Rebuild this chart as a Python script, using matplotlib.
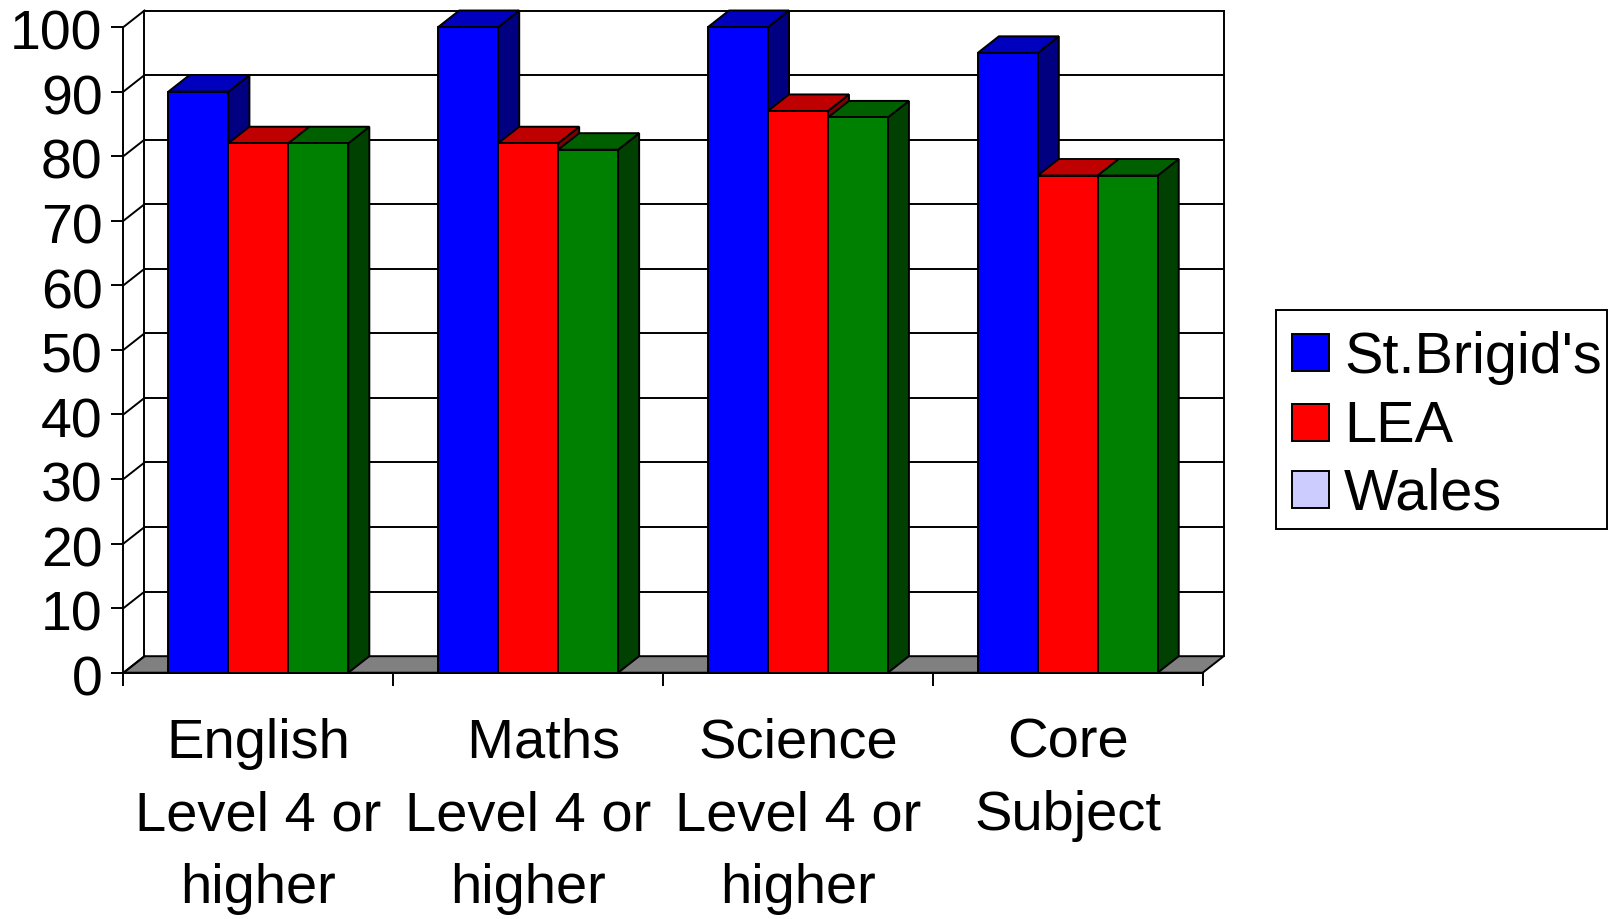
import matplotlib
matplotlib.use("Agg")
import matplotlib.pyplot as plt
from matplotlib.patches import Rectangle
from matplotlib.transforms import ScaledTranslation

plt.rcParams['font.family'] = ['Liberation Sans', 'DejaVu Sans']

# Data
categories = ["English\nLevel 4 or\nhigher", "  Maths\nLevel 4 or\nhigher",
              "Science\nLevel 4 or\nhigher", "Core\nSubject\n "]
st_brigids = [90, 100, 100, 96]
lea = [82, 82, 87, 77]
wales = [82, 81, 86, 77]
y_ticks = [0, 10, 20, 30, 40, 50, 60, 70, 80, 90, 100]
legend_labels = ["St.Brigid's", "LEA", "Wales"]

# front, top, side colours of each series
blue = ("#0000ff", "#0000bf", "#000080")
red = ("#ff0000", "#bf0000", "#800000")
green = ("#008000", "#006000", "#004000")
legend_colors = ["#0000ff", "#ff0000", "#ccccff"]

W, H = 1615, 919
LW = 1.4

# depth of the fake 3D box in data units
DX = 21 / 269.8
DY = 16.5 / 6.457
BAR_W = 2 / 9

fig = plt.figure(figsize=(W / 100, H / 100), dpi=100)
ax = fig.add_axes([123.5 / W, 1 - 672.7 / H, (1202.7 - 123.5) / W, (672.7 - 27) / H])
ax.set_xlim(0, 4)
ax.set_ylim(0, 100)
for s in ["top", "right"]:
    ax.spines[s].set_visible(False)
for s in ["left", "bottom"]:
    ax.spines[s].set_linewidth(LW)
    ax.spines[s].set_zorder(1)


def fill(xs, ys, color, z):
    ax.fill(xs, ys, facecolor=color, edgecolor="black", linewidth=LW,
            clip_on=False, zorder=z, joinstyle="miter")


# floor
fill([0, 4, 4 + DX, DX], [0, 0, DY, DY], "#808080", 1)

# back wall grid and the diagonals on the left wall
for t in y_ticks:
    if t > 0:
        ax.plot([DX, 4 + DX], [t + DY, t + DY], color="black", lw=LW, clip_on=False, zorder=1)
    ax.plot([0, DX], [t, t + DY], color="black", lw=LW, clip_on=False, zorder=1)
ax.plot([DX, DX], [DY, 100 + DY], color="black", lw=LW, clip_on=False, zorder=1)
ax.plot([4 + DX, 4 + DX], [DY, 100 + DY], color="black", lw=LW, clip_on=False, zorder=1)

# bars, left to right so each one covers the side of the one before
z = 2
for i in range(len(categories)):
    x = i + 1 / 6
    for vals, cols in [(st_brigids, blue), (lea, red), (wales, green)]:
        v = vals[i]
        fill([x + BAR_W, x + BAR_W + DX, x + BAR_W + DX, x + BAR_W],
             [0, DY, v + DY, v], cols[2], z)
        fill([x, x + BAR_W, x + BAR_W + DX, x + DX],
             [v, v, v + DY, v + DY], cols[1], z)
        ax.bar(x, v, width=BAR_W, align="edge", color=cols[0], edgecolor="black",
               linewidth=LW, zorder=z, clip_on=False)
        z += 1
        x += BAR_W

ax.set_yticks(y_ticks)
ax.tick_params(axis="y", length=8.6, width=LW, pad=6.5, labelsize=40)
# labels sit a little under their ticks in the original
for lab in ax.get_yticklabels():
    lab.set_transform(lab.get_transform() + ScaledTranslation(0, -2 / 72, fig.dpi_scale_trans))
ax.set_xticks(range(5))
ax.set_xticklabels([])
ax.tick_params(axis="x", which="major", length=9, width=LW)
ax.set_xticks([0.5, 1.5, 2.5, 3.5], minor=True)
ax.set_xticklabels(categories, minor=True, fontsize=40.4, linespacing=1.515)
ax.tick_params(axis="x", which="minor", length=0, pad=32.5)


# legend, placed in pixels
def px_rect(x0, y0, x1, y1, color, lw):
    fig.patches.append(Rectangle((x0 / W, 1 - y1 / H), (x1 - x0) / W, (y1 - y0) / H,
                                 transform=fig.transFigure, facecolor=color,
                                 edgecolor="black", linewidth=lw, figure=fig))


px_rect(1275.7, 310, 1606.7, 529, "white", LW)
swatch_tops = [334, 404, 471]
baselines = [373, 442, 509]
for label, c, top, base in zip(legend_labels, legend_colors, swatch_tops, baselines):
    px_rect(1292, top, 1328.7, top + 37, c, LW)
    fig.text(1344 / W, 1 - base / H, label, fontsize=41.5, va="baseline", ha="left")

fig.savefig("out.png", dpi=100, facecolor="white")
